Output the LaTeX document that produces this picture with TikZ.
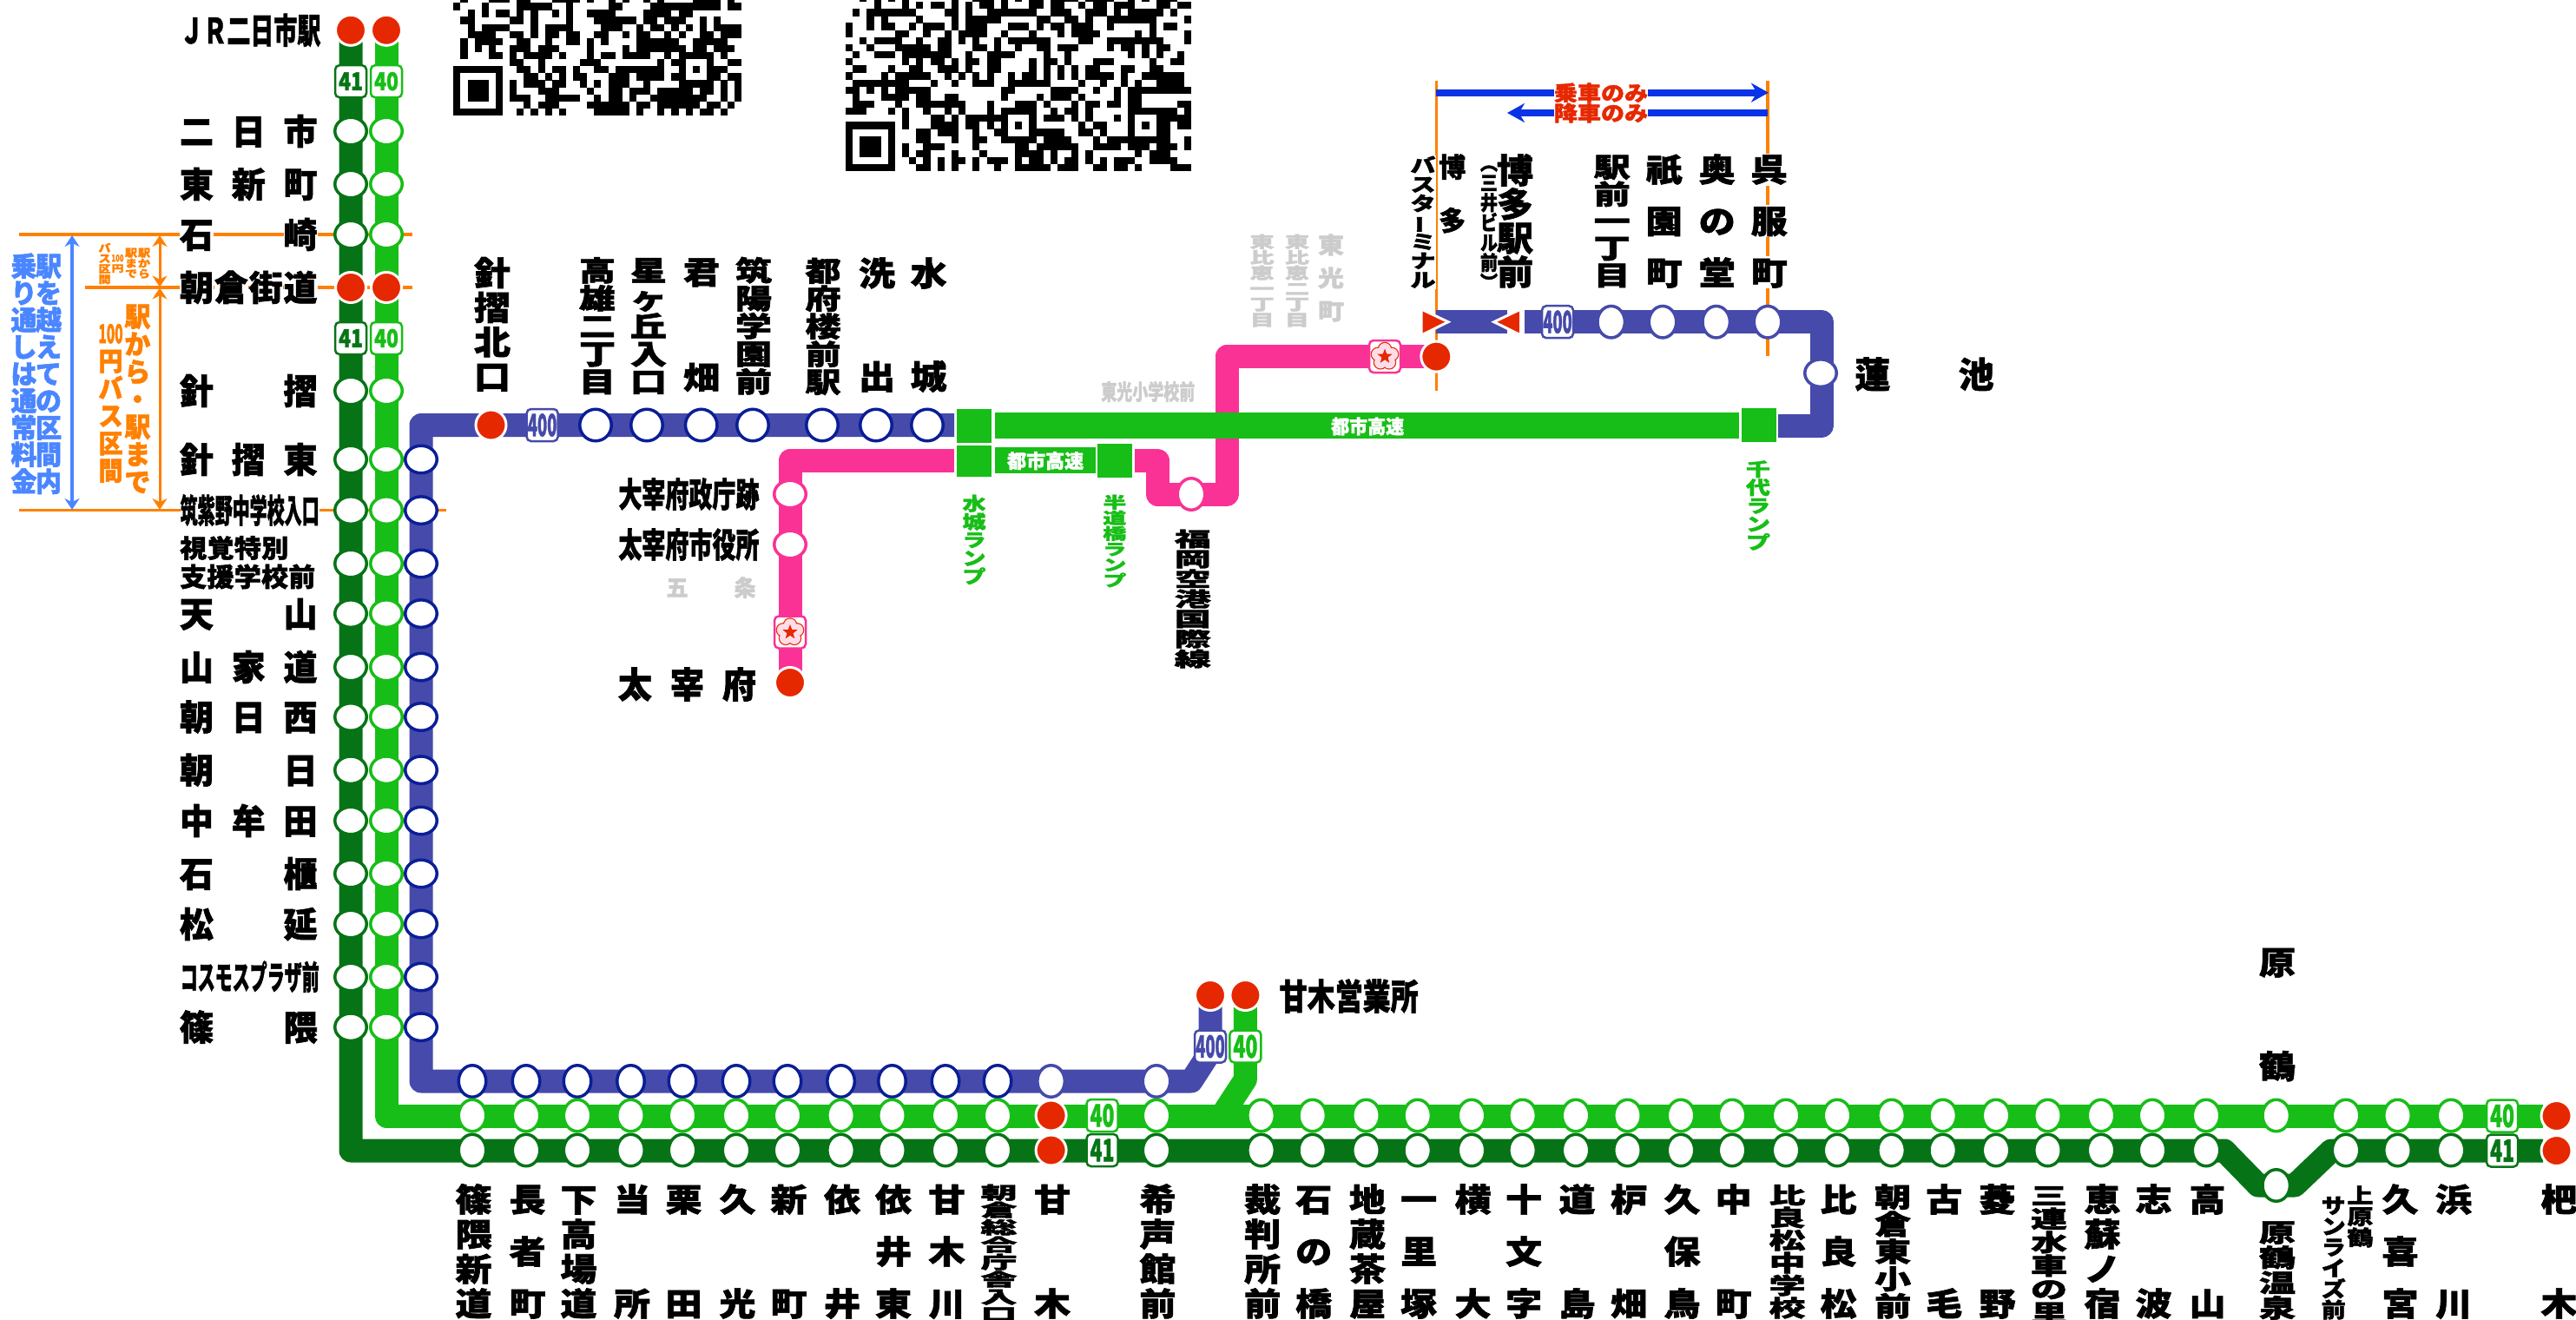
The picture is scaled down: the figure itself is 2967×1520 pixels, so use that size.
\documentclass[tikz,border=0pt]{standalone}
\usepackage{fontspec}
\usepackage{graphicx}
\usetikzlibrary{arrows.meta,shapes.geometric}
\newfontfamily\jpf{Noto Sans CJK JP}[BoldFeatures={FakeBold=1.6}]
\definecolor{cA}{HTML}{067416}
\definecolor{cB}{HTML}{17BE17}
\definecolor{cC}{HTML}{464AAA}
\definecolor{cN}{HTML}{0A1E96}
\definecolor{cP}{HTML}{FA3296}
\definecolor{cR}{HTML}{E62800}
\definecolor{cO}{HTML}{FF8000}
\definecolor{cU}{HTML}{0A32E6}
\definecolor{cL}{HTML}{4A86FF}
\definecolor{cG}{HTML}{CCCCCC}
\definecolor{cF}{HTML}{FFDDE8}
\makeatletter
\newlength\glw \newlength\glh
\newif\ifwbg \newif\ifstkfirst
\newcommand\glbox[1]{\vbox to\glh{\vss\hbox to\glw{\hss\scalebox{\gxs}[\gys]{\rule[-1.2pt]{0pt}{10pt}\smash{#1}}\hss}\vss}}
\newcommand\glc[1]{\hbox{\ifwbg\fboxsep=0pt\colorbox{white}{\glbox{#1}}\else\glbox{#1}\fi}}
\newcommand\glset[2]{\glw=#1pt \glh=#2pt \edef\gxs{\fpeval{#1/10}}\edef\gys{\fpeval{#2/10}}}
\newcommand\vstk[4]{\glset{#2}{#3}\vbox to #1pt{\offinterlineskip\stkfirsttrue\@tfor\gch:=#4\do{\ifstkfirst\stkfirstfalse\else\vfill\fi\glc{\gch}}}}
\newcommand\hstk[4]{\glset{#2}{#3}\hbox to #1pt{\stkfirsttrue\@tfor\gch:=#4\do{\ifstkfirst\stkfirstfalse\else\hfill\fi\glc{\gch}}}}
\makeatother
\newcommand\vbar{\rotatebox[origin=c]{90}{ー}}
\newcommand\nar[1]{\scalebox{.55}[1]{#1}}
\newcommand\vlab[8][black]{\node[txt,text=#1] (#2) at ({#3},{(#4+#5)/2}) {\vstk{\fpeval{#5-#4+0.08*#7}}{#6}{#7}{#8}};}
\newcommand\hlab[8][black]{\node[txt,text=#1] (#2) at ({(#3+#4)/2},#5) {\hstk{\fpeval{#4-#3+0.08*#6}}{#6}{#7}{#8}};}
\newcommand\blab[5][1]{\vlab{#2}{#3+1.5}{1364}{1518}{42}{#4}{#5}}
\newcommand\lft[5]{\hlab{#1}{208.5}{364}{#2}{#3}{#4}{#5}}
\newcommand\qrcode[4]{\foreach \k/\runs in {#4}{\foreach \s/\l in \runs {\fill[black] ({#1+\s*#3},{#2-(\k+1)*#3-0.1}) rectangle ({#1+(\s+\l)*#3},{#2-\k*#3+0.1});}}}
\newcommand\flower[3]{%
  \node[badge=cP] (#1) at (#2,#3) {};
  \foreach \a in {270,342,54,126,198}{\draw[cR,line width=1.6pt] ({#2+8.5*cos(\a)},{#3+8.5*sin(\a)}) circle (7.4);}
  \foreach \a in {270,342,54,126,198}{\fill[cF] ({#2+8.5*cos(\a)},{#3+8.5*sin(\a)}) circle (7);}
  \fill[cF] (#2,#3) circle (7);
  \node[star,star points=5,star point ratio=2.4,fill=cR,inner sep=0pt,minimum size=18pt] (#1s) at (#2,#3) {};}
\tikzset{
  txt/.style={inner sep=0pt,outer sep=0pt,font=\jpf\bfseries\fontsize{10}{10}\selectfont},
  rt/.style={line width=27pt,line join=round,draw=#1},
  stH/.style={ellipse,inner sep=0pt,minimum width=31.5pt,minimum height=36.5pt,fill=white,draw=#1,line width=3.5pt},
  stV/.style={ellipse,inner sep=0pt,minimum width=36.5pt,minimum height=31.5pt,fill=white,draw=#1,line width=3.5pt},
  stR/.style={ellipse,inner sep=0pt,minimum width=36.5pt,minimum height=36.5pt,fill=white,draw=#1,line width=3.5pt},
  term/.style={circle,inner sep=0pt,minimum size=35pt,fill=cR,draw=white,line width=3pt},
  badge/.style={rectangle,rounded corners=5pt,inner sep=0pt,minimum width=36pt,minimum height=37pt,fill=white,draw=#1,line width=2.5pt,text=#1,font=\jpf\bfseries\fontsize{27}{27}\selectfont},
  gbox/.style={rectangle,inner sep=0pt,fill=cB},
  oline/.style={draw=cO,line width=3.5pt},
  oarr/.style={draw=cO,line width=3pt,{Stealth[length=13pt,width=17pt]}-{Stealth[length=13pt,width=17pt]}},
  larr/.style={draw=cL,line width=3.5pt,{Stealth[length=13pt,width=17pt]}-{Stealth[length=13pt,width=17pt]}},
  barr/.style={draw=cU,line width=8pt,-{Stealth[length=20pt,width=22pt]}},
  tri/.style={fill=cR,draw=white,line width=3pt,line join=miter}
}
\begin{document}
\begin{tikzpicture}[x=1pt,y=-1pt]
\useasboundingbox (0,0) rectangle (2967,1520);
\fill[white] (0,0) rectangle (2967,1520);
\begin{scope}
\clip (0,0) rectangle (2967,1520);
\qrcode{522.3}{133}{8.1}{
16/{1/1,5/3,9/2,14/4,19/1,22/1,24/1,27/1,29/1,34/4,39/1},
15/{0/1,4/1,9/5,16/1,22/2,28/10,39/2},
14/{2/1,4/1,6/2,9/1,11/1,14/1,16/1,19/4,27/4,32/2},
13/{1/2,8/2,11/1,16/1,20/6,27/2,30/3,35/1,37/1},
12/{2/1,4/4,11/1,13/4,21/3,26/1,28/2,31/1,33/1,35/1,37/4},
11/{2/4,8/2,11/1,13/2,16/2,20/2,24/1,26/2,30/1,32/1,35/2,38/3},
10/{1/1,3/4,9/2,13/1,16/2,19/1,21/1,26/6,34/5},
9/{1/1,3/1,5/1,8/3,12/3,19/1,24/1,26/7,34/2,37/3},
8/{1/1,5/2,8/1,10/4,15/1,19/1,21/2,24/4,30/1,32/5,38/1},
7/{8/2,12/1,18/3,29/1,31/2,36/1,39/2},
6/{0/7,9/2,12/1,14/2,17/1,20/2,23/7,32/1,34/1,36/3},
5/{0/1,6/1,10/2,13/1,15/1,17/2,22/3,26/4,31/2,36/2,39/2},
4/{0/1,2/3,6/1,8/1,10/3,14/2,18/1,20/1,22/3,27/1,32/5,38/1,40/1},
3/{0/1,2/3,6/1,8/1,12/3,19/1,22/2,25/3,29/5,35/2,38/1,40/1},
2/{0/1,2/3,6/1,8/3,13/5,20/1,22/2,25/1,28/8,38/1,40/1},
1/{0/1,6/1,10/1,12/3,19/6,26/2,29/6,36/2,39/1},
0/{0/7,9/1,11/1,13/1,15/1,20/5,26/1,29/1,31/1,33/1,35/2,38/1}}
\qrcode{974}{197.3}{8.13}{
24/{2/1,4/1,6/1,8/1,15/1,18/3,22/1,24/1,26/2,29/4,34/4,40/1,42/1,44/3},
23/{4/1,8/1,10/1,12/2,15/1,17/1,19/2,22/1,26/2,29/2,33/1,35/2,38/2,40/1,44/2,47/2},
22/{1/1,3/7,14/2,17/1,20/7,29/3,34/3,38/1,40/5,46/1},
21/{3/1,5/1,10/1,15/1,17/5,27/2,31/2,34/1,37/3,40/3,43/1,48/1},
20/{0/1,3/1,5/2,9/1,11/3,15/1,17/3,23/3,27/1,29/2,32/3,37/1,43/1,45/2},
19/{0/1,7/2,11/1,14/1,16/4,22/1,26/1,30/1,32/4,41/1,43/1,48/1},
18/{2/1,4/4,10/1,13/2,16/1,18/1,21/1,23/6,33/2,37/8,48/1},
17/{0/1,3/1,7/5,13/2,18/2,21/1,24/1,27/2,30/3,37/1,39/2,42/1,44/2},
16/{1/1,4/3,8/7,17/1,20/4,28/1,31/1,40/1,42/1,44/1,47/1},
15/{0/1,8/1,10/1,12/2,15/1,17/2,20/2,26/1,28/2,31/1,35/3,43/1,46/2},
14/{1/2,6/1,9/2,13/3,17/1,20/2,26/1,28/1,30/1,32/1,34/2,39/2,43/2},
13/{0/1,5/1,7/5,14/1,16/1,18/1,20/1,23/1,25/2,28/1,30/1,32/1,34/4,39/1,42/6},
12/{1/8,12/1,15/1,18/3,23/6,33/1,36/1,39/1,41/1,44/4},
11/{0/2,3/1,5/1,7/5,22/2,29/4,35/1,38/1,40/9},
10/{1/1,5/4,10/2,14/2,22/1,27/1,29/3,33/1,38/1,40/2},
9/{1/3,7/1,10/6,16/1,20/1,24/3,28/1,32/1,34/2,37/2,40/2,47/2},
8/{0/3,6/1,8/1,11/1,14/1,16/1,20/1,22/5,29/1,31/2,34/1,40/7,48/1},
7/{8/1,12/2,15/1,17/5,22/1,26/1,28/3,32/1,34/1,38/1,40/1,44/5},
6/{0/7,8/1,12/4,17/2,20/1,22/1,24/1,26/1,33/1,35/2,40/1,42/1,44/2,47/2},
5/{0/1,6/1,10/2,13/3,18/1,21/2,26/5,33/2,36/1,40/1,44/2},
4/{0/1,2/3,6/1,10/2,15/1,18/2,22/5,28/4,35/1,37/9,48/1},
3/{0/1,2/3,6/1,8/1,11/3,18/1,24/2,27/6,35/4,40/3,44/3,48/1},
2/{0/1,2/3,6/1,8/1,10/2,15/1,19/1,24/4,29/1,32/1,34/1,41/1,43/3},
1/{0/1,6/1,9/1,11/1,13/1,15/2,18/1,20/3,24/1,26/2,29/1,31/2,34/1,36/1,38/3,43/4},
0/{0/7,10/2,13/1,15/1,18/1,21/1,24/5,30/3,35/2,38/2,41/1,46/3}}
\end{scope}
% orange guide lines
\coordinate (oa1) at (22,270);\coordinate (oa2) at (475,270);
\coordinate (ob1) at (98,331);\coordinate (ob2) at (475,331);
\coordinate (oc1) at (22,587.6);\coordinate (oc2) at (514,587.6);
\coordinate (od1) at (1654.3,93);\coordinate (od2) at (1654.3,450);
\coordinate (oe1) at (2036,93);\coordinate (oe2) at (2036,410);
\draw[oline] (oa1)--(oa2);\draw[oline] (ob1)--(ob2);\draw[oline] (oc1)--(oc2);
\draw[oline] (od1)--(od2);\draw[oline] (oe1)--(oe2);
% span arrows
\coordinate (ls1) at (83,271);\coordinate (ls2) at (83,587);
\coordinate (os1) at (184,271);\coordinate (os2) at (184,330.5);\coordinate (os3) at (184,331.5);\coordinate (os4) at (184,587);
\draw[larr] (ls1)--(ls2);\draw[oarr] (os1)--(os2);\draw[oarr] (os3)--(os4);
\coordinate (ua1) at (1654,106.7);\coordinate (ua2) at (2037,106.7);
\coordinate (ub1) at (2036,130);\coordinate (ub2) at (1736,130);
\draw[barr] (ua1)--(ua2);\draw[barr] (ub1)--(ub2);
% routes
\coordinate (pa) at (910,786);\coordinate (pb) at (910,530);\coordinate (pc) at (1099,530);
\coordinate (pd) at (1307,530);\coordinate (pe) at (1333,530);\coordinate (pf) at (1333,569);\coordinate (pg) at (1413,569);\coordinate (ph) at (1413,410.5);\coordinate (pi) at (1654,410.5);
\draw[rt=cP] (pa)--(pb)--(pc);
\draw[rt=cP] (pd)--(pe)--(pf)--(pg)--(ph)--(pi);
\coordinate (ra) at (1099,489.5);\coordinate (rb) at (485,489.5);\coordinate (rc) at (485,1245);\coordinate (rd) at (1372,1245);\coordinate (re) at (1394,1211);\coordinate (rf) at (1394,1146);
\draw[rt=cC] (ra)--(rb)--(rc)--(rd)--(re)--(rf);
\coordinate (rg) at (1654,370.7);\coordinate (rh) at (1736,370.7);
\draw[rt=cC] (rg)--(rh);
\coordinate (ri) at (1756,370.7);\coordinate (rj) at (2098,370.7);\coordinate (rk) at (2098,490);\coordinate (rl) at (2048,490);
\draw[rt=cC] (ri)--(rj)--(rk)--(rl);
\coordinate (ga) at (445,35);\coordinate (gb) at (445,1285);\coordinate (gc) at (2929,1285);
\draw[rt=cB] (ga)--(gb)--(gc);
\coordinate (gd) at (1434.4,1146);\coordinate (ge) at (1434.4,1243);\coordinate (gf) at (1407,1285);
\draw[rt=cB] (gd)--(ge)--(gf);
\coordinate (da) at (404,35);\coordinate (db) at (404,1325);\coordinate (dc) at (2562,1325);\coordinate (dd) at (2601,1365);\coordinate (de) at (2643,1365);\coordinate (df) at (2685,1325);\coordinate (dg) at (2929,1325);
\draw[rt=cA] (da)--(db)--(dc)--(dd)--(de)--(df)--(dg);
% highway boxes
\node[gbox,minimum width=857pt,minimum height=30pt] (hw1) at (1574,490) {};
\node[gbox,minimum width=116pt,minimum height=30pt] (hw2) at (1203.5,529.5) {};
\node[gbox,minimum width=40pt,minimum height=39pt] (ra1) at (1122,490) {};
\node[gbox,minimum width=40pt,minimum height=36pt] (ra2) at (1122,531) {};
\node[gbox,minimum width=40pt,minimum height=39pt] (ra3) at (1283.7,530) {};
\node[gbox,minimum width=40pt,minimum height=39pt] (ra4) at (2025.5,489.5) {};
% stations
\foreach \y [count=\i] in {151,212,270,450,529,587.6,649,706.6,768,825.5,886.7,945,1006,1064,1125,1182.7}{
  \node[stV=cA] (va\i) at (404,\y) {};
  \node[stV=cB] (vb\i) at (445,\y) {};}
\foreach \y [count=\i] in {529,587.6,649,706.6,768,825.5,886.7,945,1006,1064,1125,1182.7}{
  \node[stV=cN] (vc\i) at (485,\y) {};}
\foreach \x [count=\i] in {686,745,807.7,867,947,1009,1068}{
  \node[stR=cN] (tc\i) at (\x,489.5) {};}
\foreach \x [count=\i] in {544,606,665,726.5,786,848,907,968.6,1027.5,1089,1149}{
  \node[stH=cN] (hc\i) at (\x,1245) {};
  \node[stH=cB] (hb\i) at (\x,1284.5) {};
  \node[stH=cA] (ha\i) at (\x,1324.5) {};}
\node[stH=cC] (hcx) at (1210.6,1245) {};
\node[stH=cC] (hcy) at (1332,1245) {};
\node[stH=cB] (hby) at (1332,1284.5) {};
\node[stH=cA] (hay) at (1332,1324.5) {};
\foreach \x [count=\i] in {1452.6,1511.7,1573.5,1632.7,1695,1753.6,1815,1874.5,1936,1995,2057,2116,2178.6,2237.7,2299,2358.5,2420,2479,2541,2702,2761.5,2823}{
  \node[stH=cB] (pb\i) at (\x,1284.5) {};
  \node[stH=cA] (pa\i) at (\x,1324.5) {};}
\node[stH=cB] (hara) at (2621.7,1284.5) {};
\node[stH=cA] (haraon) at (2621.7,1365) {};
\foreach \x [count=\i] in {1855.7,1915,1976.7,2036}{\node[stH=cC] (hk\i) at (\x,370.7) {};}
\node[stV=cC] (hasu) at (2097,429.6) {};
\node[stV=cP] (dz1) at (910,569) {};
\node[stV=cP] (dz2) at (910,627) {};
\node[stH=cP] (fk) at (1372,569) {};
% terminals
\foreach \n/\x/\y in {t1/404/34.8,t2/445/34.8,t3/404/331,t4/445/331,t5/565.5/489.5,t6/1394/1146,t7/1434.4/1146,t8/1210.6/1284.5,t9/1210.6/1324.5,t10/2944.5/1285,t11/2944.5/1325,t12/910/786,t13/1654.3/410.6}{
  \node[term] (\n) at (\x,\y) {};}
% arrows triangles
\coordinate (tl1) at (1637,356);\coordinate (tl2) at (1668,370.7);\coordinate (tl3) at (1637,386);
\coordinate (tr1) at (1751.7,356);\coordinate (tr2) at (1720.7,370.7);\coordinate (tr3) at (1751.7,386);
\draw[tri] (tl1)--(tl2)--(tl3)--cycle;
\draw[tri] (tr1)--(tr2)--(tr3)--cycle;
% badges
\newcommand\bnum[3]{\scalebox{#1}[#2]{#3}}
\foreach \n/\x/\y/\c/\t in {b1/404/93.7/cA/41,b2/445/93.7/cB/40,b3/404/389.5/cA/41,b4/445/389.5/cB/40}{
  \node[badge=\c] (\n) at (\x,\y) {\bnum{.85}{1.05}{\t}};}
\foreach \n/\x/\y/\c/\t in {b5/1269.5/1284.5/cB/40,b6/1269.5/1324.5/cA/41,b7/1434.4/1205/cB/40,b8/2882/1285/cB/40,b9/2882/1325/cA/41}{
  \node[badge=\c] (\n) at (\x,\y) {\bnum{.85}{1.32}{\t}};}
\foreach \n/\x/\y in {b10/624.6/489.5,b11/1394/1205,b12/1794/370.7}{
  \node[badge=cC] (\n) at (\x,\y) {\bnum{.68}{1.3}{400}};}
\flower{fl1}{1595}{410.5}
\flower{fl2}{910}{728}
% left column labels
\lft{l1}{34.8}{27}{40}{ＪＲ二日市駅}
\lft{l2}{151}{39}{40}{二日市}
\lft{l3}{212}{39}{40}{東新町}
\wbgtrue
\lft{l4}{270}{39}{40}{石崎}
\lft{l5}{331}{39}{40}{朝倉街道}
\lft{l8}{587.6}{20}{38}{筑紫野中学校入口}
\wbgfalse
\lft{l6}{450}{39}{40}{針摺}
\lft{l7}{529}{39}{40}{針摺東}
\hlab{l9a}{208.5}{331}{631}{31}{29}{視覚特別}
\hlab{l9b}{208.5}{362}{664}{31}{30}{支援学校前}
\lft{l10}{706.6}{39}{40}{天山}
\lft{l11}{768}{39}{40}{山家道}
\lft{l12}{825.5}{39}{40}{朝日西}
\lft{l13}{886.7}{39}{40}{朝日}
\lft{l14}{945}{39}{40}{中牟田}
\lft{l15}{1006}{39}{40}{石櫃}
\lft{l16}{1064}{39}{40}{松延}
\lft{l17}{1125}{20}{38}{コスモスプラザ前}
\lft{l18}{1182.7}{39}{40}{篠隈}
% span texts
\vlab[cL]{s1}{27.5}{292}{567}{30}{31}{乗り通しは通常料金}
\vlab[cL]{s2}{56}{292}{567}{30}{31}{駅を越えての区間内}
\vlab[cO]{s3}{127.5}{370}{555.5}{28}{30}{{\nar{100}}円バス区間}
\vlab[cO]{s4}{158.4}{350}{569}{30}{31}{駅から・駅まで}
\vlab[cO]{s5}{120.5}{280}{326}{14}{12}{バス区間}
\vlab[cO]{s6}{135.5}{292}{314}{14}{11}{{\nar{100}}円}
\vlab[cO]{s7}{151}{285.5}{319.5}{14}{12}{駅まで}
\vlab[cO]{s8}{166}{285.5}{319.5}{14}{12}{駅から}
% upper labels
\vlab{u1}{567}{296.6}{451}{42}{38}{針摺北口}
\vlab{u2}{688}{296.6}{451}{42}{32}{高雄二丁目}
\vlab{u3}{747}{296.6}{451}{42}{32}{星ヶ丘入口}
\vlab{u4}{808}{296.6}{451}{42}{36}{君畑}
\vlab{u5}{868}{296.6}{451}{42}{32}{筑陽学園前}
\vlab{u6}{948}{297}{451}{41}{32}{都府楼前駅}
\vlab{u7}{1010}{297}{451}{42}{38}{洗出}
\vlab{u8}{1069.6}{297}{451}{42}{38}{水城}
\hlab[cG]{g1}{1269}{1373}{451}{18}{25}{東光小学校前}
\vlab[cG]{g2}{1533}{270}{370}{30}{26}{東光町}
\vlab[cG]{g3}{1494}{270}{370}{28}{18}{東比恵二丁目}
\vlab[cG]{g4}{1453.6}{270}{370}{28}{18}{東比恵一丁目}
\wbgtrue
\vlab{u9}{1639}{180}{331.7}{29}{22}{バスタ{\vbar}ミナル}
\wbgfalse
\vlab{u10}{1672.7}{178}{268}{31}{31}{博多}
\vlab{u11}{1715}{176.7}{331.7}{20}{23}{︵三井ビル前︶}
\vlab{u12}{1745}{178}{330.7}{42}{39}{博多駅前}
\vlab{u13}{1856.7}{178}{331}{42}{31}{駅前一丁目}
\vlab{u14}{1916.7}{178}{331}{42}{37}{祇園町}
\vlab{u15}{1977.7}{178}{331}{42}{37}{奥の堂}
\wbgtrue
\vlab{u16}{2037.7}{178}{331}{42}{37}{呉服町}
\hlab[cR]{a1}{1791}{1897}{107}{27}{24}{乗車のみ}
\hlab[cR]{a2}{1791}{1897}{130}{27}{24}{降車のみ}
\wbgfalse
\hlab{u17}{2138}{2295}{431}{41}{41}{蓮池}
% pink branch labels
\hlab{d1}{713.5}{869.5}{569}{27}{39}{大宰府政庁跡}
\hlab{d2}{713.5}{869.5}{627}{27}{39}{太宰府市役所}
\hlab[cG]{d3}{768.5}{869.5}{676.5}{25}{26}{五条}
\hlab{d4}{713.5}{869.5}{788}{39}{41}{太宰府}
\vlab{d5}{1373.8}{610}{761.7}{42}{23}{福岡空港国際線}
\vlab[cB]{r1}{1122}{570}{670}{27}{21}{水城ランプ}
\vlab[cB]{r2}{1283.8}{570}{670}{27}{18}{半道橋ランプ}
\vlab[cB]{r3}{2025}{530.6}{630}{28}{21}{千代ランプ}
\hlab[white]{w1}{1534}{1614}{491}{21}{22}{都市高速}
\hlab[white]{w2}{1161}{1243}{530.6}{22}{22}{都市高速}
\hlab{e1}{1475}{1629.6}{1147}{32}{41}{甘木営業所}
\vlab{e2}{2623}{1091}{1244.6}{42}{37}{原鶴}
% bottom labels
\blab{b01}{544}{37}{篠隈新道}
\blab{b02}{606}{37}{長者町}
\blab{b03}{665}{37}{下高場道}
\blab{b04}{726.5}{37}{当所}
\blab{b05}{786}{37}{栗田}
\blab{b06}{848}{37}{久光}
\blab{b07}{907}{37}{新町}
\blab{b08}{968.6}{37}{依井}
\blab{b09}{1027.5}{37}{依井東}
\blab{b10x}{1089}{37}{甘木川}
\blab{b11x}{1149}{20}{朝倉総合庁舎入口}
\blab{b12x}{1210.6}{37}{甘木}
\blab{b13}{1332}{37}{希声館前}
\blab{b14}{1452.6}{37}{裁判所前}
\blab{b15}{1511.7}{37}{石の橋}
\blab{b16}{1573.5}{37}{地蔵茶屋}
\blab{b17}{1632.7}{37}{一里塚}
\blab{b18}{1695}{37}{横大}
\blab{b19}{1753.6}{37}{十文字}
\blab{b20}{1815}{37}{道島}
\blab{b21}{1874.5}{37}{枦畑}
\blab{b22}{1936}{37}{久保鳥}
\blab{b23}{1995}{37}{中町}
\blab{b24}{2057}{26}{比良松中学校}
\blab{b25}{2116}{37}{比良松}
\blab{b26}{2178.6}{31}{朝倉東小前}
\blab{b27}{2237.7}{37}{古毛}
\blab{b28}{2299}{37}{菱野}
\blab{b29}{2358.5}{27}{三連水車の里}
\blab{b30}{2420}{37}{恵蘇ノ宿}
\blab{b31}{2479}{37}{志波}
\blab{b32}{2541}{37}{高山}
\vlab{b33}{2623}{1405.7}{1518}{42}{29}{原鶴温泉}
\vlab{b34}{2718.5}{1365.4}{1436}{30}{24}{上原鶴}
\vlab{b35}{2687.7}{1377}{1518}{28}{24}{サンライズ前}
\blab{b36}{2763}{37}{久喜宮}
\blab{b37}{2824.5}{37}{浜川}
\blab{b38}{2946}{37}{杷木}
\end{tikzpicture}
\end{document}
